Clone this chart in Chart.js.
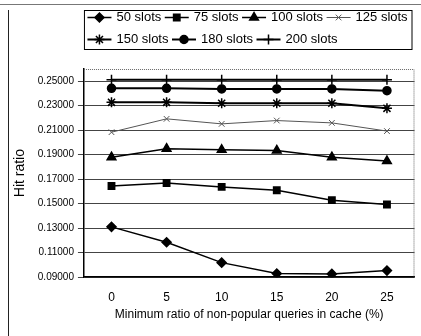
<!DOCTYPE html>
<html>
<head>
<meta charset="utf-8">
<script src="https://cdn.jsdelivr.net/npm/chart.js@4/dist/chart.umd.min.js"></script>
<style>
  body { margin: 0; background: #fff; }
  #wrap { position: relative; width: 421px; height: 336px; }
</style>
</head>
<body>
<div id="wrap"><canvas id="hitChart" width="421" height="336"></canvas></div>
<script>
// minimum ratio of non-popular queries kept in cache (%)
const ratios = ['0', '5', '10', '15', '20', '25'];

// hit ratio per cache size
const slots50  = [0.1311, 0.1185, 0.1019, 0.0930, 0.0927, 0.0954];
const slots75  = [0.1645, 0.1669, 0.1637, 0.1610, 0.1529, 0.1494];
const slots100 = [0.1880, 0.1949, 0.1940, 0.1935, 0.1880, 0.1848];
const slots125 = [0.2084, 0.2193, 0.2152, 0.2179, 0.2160, 0.2093];
const slots150 = [0.2328, 0.2328, 0.2320, 0.2320, 0.2320, 0.2279];
const slots180 = [0.2442, 0.2442, 0.2437, 0.2437, 0.2437, 0.2423];
const slots200 = [0.2513, 0.2513, 0.2513, 0.2513, 0.2513, 0.2513];

const yTicks = [0.09, 0.11, 0.13, 0.15, 0.17, 0.19, 0.21, 0.23, 0.25];

const FONT = 'Liberation Sans, Arial, sans-serif';
const ICON_W = 21;
const ICON_H = 17;

const styles = [
    { label: '50 slots',  data: slots50,  pointStyle: 'rectRot',  radius: 4.5, width: 1.5, color: '#000' },
    { label: '75 slots',  data: slots75,  pointStyle: 'rect',     radius: 4.5, width: 1.5, color: '#000' },
    { label: '100 slots', data: slots100, pointStyle: 'triangle', radius: 5,   width: 1.5, color: '#000' },
    { label: '125 slots', data: slots125, pointStyle: 'crossRot', radius: 4,   width: 1,   color: '#555' },
    { label: '150 slots', data: slots150, pointStyle: 'star',     radius: 5,   width: 2,   color: '#000' },
    { label: '180 slots', data: slots180, pointStyle: 'circle',   radius: 4,   width: 2,   color: '#000' },
    { label: '200 slots', data: slots200, pointStyle: 'cross',    radius: 5,   width: 2,   color: '#000' }
];

const markerBorder = s => (s.pointStyle === 'crossRot' ? 1 : 1.5);

// line + marker drawn into each legend box slot
function drawIcon(ctx, s, cx, cy) {
    ctx.save();
    ctx.strokeStyle = s.color;
    ctx.fillStyle = s.color;
    ctx.lineWidth = s.width;
    ctx.beginPath();
    ctx.moveTo(cx - 12, cy);
    ctx.lineTo(cx + 12, cy);
    ctx.stroke();
    ctx.lineWidth = markerBorder(s);
    Chart.helpers.drawPoint(ctx, {
        pointStyle: s.pointStyle,
        radius: s.radius,
        rotation: 0,
        borderWidth: markerBorder(s)
    }, cx, cy);
    ctx.restore();
}

const frame = {
    id: 'frame',
    beforeDraw(chart) {
        const ctx = chart.ctx;
        ctx.save();
        ctx.strokeStyle = '#777';
        ctx.lineWidth = 1;
        ctx.beginPath();
        ctx.moveTo(0, 4.5);
        ctx.lineTo(421, 4.5);
        ctx.stroke();
        ctx.strokeStyle = '#222';
        ctx.beginPath();
        ctx.moveTo(8.5, 10);
        ctx.lineTo(8.5, 336);
        ctx.stroke();
        ctx.restore();
    },
    afterDraw(chart) {
        const ctx = chart.ctx;
        const lg = chart.legend;
        const a = chart.chartArea;
        lg.legendHitBoxes.forEach((hb, i) => {
            drawIcon(ctx, styles[i], hb.left + ICON_W / 2, hb.top + ICON_H / 2);
        });
        ctx.save();
        ctx.strokeStyle = '#000';
        ctx.lineWidth = 1;
        ctx.strokeRect(lg.left + 0.5, lg.top + 6.5, lg.width - 3, 39);
        // dotted top / right edge of the plot
        ctx.strokeStyle = '#666';
        ctx.setLineDash([1, 1]);
        ctx.beginPath();
        ctx.moveTo(a.left, a.top + 0.5);
        ctx.lineTo(a.right - 0.5, a.top + 0.5);
        ctx.lineTo(a.right - 0.5, a.bottom);
        ctx.stroke();
        ctx.restore();
    }
};

new Chart(document.getElementById('hitChart'), {
    type: 'line',
    data: {
        labels: ratios,
        datasets: styles.map(s => ({
            label: s.label,
            data: s.data,
            borderColor: s.color,
            backgroundColor: s.color,
            borderWidth: s.width,
            pointStyle: s.pointStyle,
            pointRadius: s.radius,
            pointBorderWidth: markerBorder(s),
            tension: 0,
            fill: false
        }))
    },
    options: {
        responsive: false,
        animation: false,
        layout: { padding: { top: 4, right: 5, bottom: 14, left: 12 } },
        plugins: {
            legend: {
                position: 'top',
                align: 'start',
                fullSize: false,
                weight: 3000,
                labels: {
                    boxWidth: ICON_W,
                    boxHeight: ICON_H,
                    padding: 5,
                    color: '#000',
                    font: { family: FONT, size: 13 },
                    generateLabels(chart) {
                        const items = Chart.defaults.plugins.legend.labels.generateLabels(chart);
                        items.forEach(it => {
                            it.fillStyle = 'rgba(0,0,0,0)';
                            it.strokeStyle = 'rgba(0,0,0,0)';
                            it.lineWidth = 0;
                        });
                        return items;
                    }
                }
            },
            // empty title used as a spacer between legend and plot
            title: {
                display: true,
                text: ' ',
                font: { size: 8 },
                padding: { top: 0, bottom: 1.4 }
            },
            tooltip: { enabled: false }
        },
        scales: {
            x: {
                offset: true,
                grid: { display: false },
                border: { color: '#000', width: 1.5 },
                ticks: { color: '#000', font: { family: FONT, size: 12 }, padding: 5 },
                title: {
                    display: true,
                    text: 'Minimum ratio of non-popular queries in cache (%)',
                    color: '#000',
                    font: { family: FONT, size: 12 },
                    padding: { top: -2, bottom: 0 }
                }
            },
            y: {
                min: 0.09,
                max: 0.26,
                afterBuildTicks(axis) {
                    axis.ticks = yTicks.map(v => ({ value: v }));
                },
                grid: { color: '#444', lineWidth: 1, tickLength: 6 },
                border: { color: '#000', width: 1.5 },
                ticks: {
                    color: '#000',
                    padding: 4,
                    font: { family: FONT, size: 10 },
                    callback: v => v.toFixed(5)
                },
                title: {
                    display: true,
                    text: 'Hit ratio',
                    color: '#000',
                    font: { family: FONT, size: 14 },
                    padding: { top: 0, bottom: 5 }
                }
            }
        }
    },
    plugins: [frame]
});
</script>
</body>
</html>
